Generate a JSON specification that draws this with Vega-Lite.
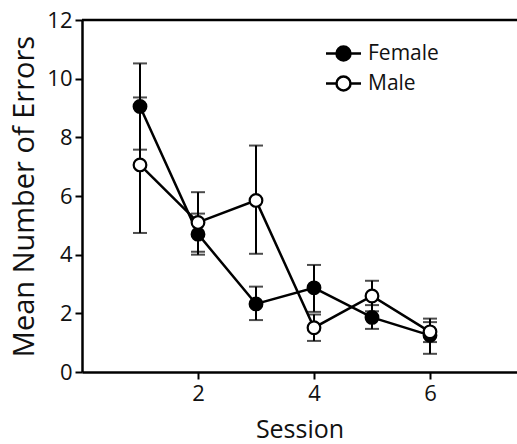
{
  "$schema": "https://vega.github.io/schema/vega-lite/v6.json",
  "width": 435,
  "height": 352,
  "autosize": {"type": "none"},
  "padding": {"left": 82, "top": 20, "right": 0, "bottom": 72},
  "background": "white",
  "config": {
    "view": {"stroke": null},
    "font": "Open Sans",
    "axis": {
      "grid": false,
      "domainColor": "black",
      "domainWidth": 2.5,
      "tickColor": "black",
      "tickWidth": 2,
      "tickSize": 7,
      "labelFontSize": 22,
      "labelColor": "#111",
      "titleFontSize": 25,
      "titleFontWeight": "normal",
      "titleColor": "#111",
      "labelFont": "Open Sans",
      "titleFont": "Open Sans"
    },
    "legend": {
      "labelFontSize": 21,
      "labelColor": "#111",
      "labelFont": "Open Sans"
    }
  },
  "data": {
    "values": [
      {"session": 1, "sex": "Female", "mean": 9.05, "lo": 7.58, "hi": 10.52},
      {"session": 2, "sex": "Female", "mean": 4.7, "lo": 4.0, "hi": 5.4},
      {"session": 3, "sex": "Female", "mean": 2.32, "lo": 1.77, "hi": 2.91},
      {"session": 4, "sex": "Female", "mean": 2.87, "lo": 2.05, "hi": 3.65},
      {"session": 5, "sex": "Female", "mean": 1.86, "lo": 1.47, "hi": 2.28},
      {"session": 6, "sex": "Female", "mean": 1.25, "lo": 0.62, "hi": 1.82},
      {"session": 1, "sex": "Male", "mean": 7.06, "lo": 4.74, "hi": 9.36},
      {"session": 2, "sex": "Male", "mean": 5.1, "lo": 4.1, "hi": 6.13},
      {"session": 3, "sex": "Male", "mean": 5.85, "lo": 4.03, "hi": 7.72},
      {"session": 4, "sex": "Male", "mean": 1.51, "lo": 1.06, "hi": 1.96},
      {"session": 5, "sex": "Male", "mean": 2.59, "lo": 2.07, "hi": 3.11},
      {"session": 6, "sex": "Male", "mean": 1.37, "lo": 1.02, "hi": 1.7}
    ]
  },
  "encoding": {
    "x": {
      "field": "session",
      "type": "quantitative",
      "scale": {"domain": [0, 7.5], "nice": false, "zero": false},
      "axis": {"values": [2, 4, 6], "title": "Session", "titlePadding": 13, "labelPadding": 4}
    }
  },
  "layer": [
    {
      "mark": {"type": "rule", "strokeWidth": 2, "color": "black"},
      "encoding": {
        "y": {"field": "lo", "type": "quantitative", "scale": {"domain": [0, 12], "nice": false},
          "axis": {"values": [0, 2, 4, 6, 8, 10, 12], "title": "Mean Number of Errors", "titleFontSize": 29, "titlePadding": 7, "labelPadding": 3}},
        "y2": {"field": "hi"}
      }
    },
    {
      "mark": {"type": "tick", "orient": "horizontal", "thickness": 2, "size": 14, "color": "black"},
      "encoding": {"y": {"field": "lo", "type": "quantitative"}}
    },
    {
      "mark": {"type": "tick", "orient": "horizontal", "thickness": 2, "size": 14, "color": "black"},
      "encoding": {"y": {"field": "hi", "type": "quantitative"}}
    },
    {
      "mark": {"type": "line", "strokeWidth": 2.5, "color": "black"},
      "encoding": {
        "y": {"field": "mean", "type": "quantitative"},
        "detail": {"field": "sex"}
      }
    },
    {
      "mark": {"type": "point", "shape": "circle", "size": 160, "stroke": "black", "strokeWidth": 2.2, "filled": true, "opacity": 1},
      "encoding": {
        "y": {"field": "mean", "type": "quantitative"},
        "fill": {
          "field": "sex",
          "type": "nominal",
          "scale": {"domain": ["Female", "Male"], "range": ["black", "white"]},
          "legend": {
            "title": null,
            "orient": "none",
            "legendX": 251,
            "legendY": 23,
            "symbolType": "M-2.19,0H-0.875M0.875,0H2.19M-0.875,0A0.875,0.875 0 1,0 0.875,0A0.875,0.875 0 1,0 -0.875,0Z",
            "symbolSize": 256,
            "symbolStrokeColor": "black",
            "symbolStrokeWidth": 2.5,
            "symbolOpacity": 1,
            "labelOffset": 14,
            "rowPadding": 5
          }
        }
      }
    },
    {
      "data": {"values": [{"v": 12}]},
      "mark": {"type": "rule", "strokeWidth": 2.5, "color": "black"},
      "encoding": {"x": null, "y": {"field": "v", "type": "quantitative", "axis": {"values": [0, 2, 4, 6, 8, 10, 12], "title": "Mean Number of Errors", "titleFontSize": 29, "titlePadding": 7, "labelPadding": 3}}}
    }
  ]
}
